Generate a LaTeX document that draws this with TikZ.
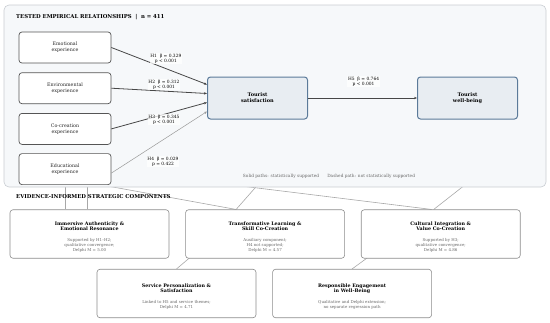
\documentclass[tikz,border=0pt]{standalone}
\usepackage{fontspec}
\setmainfont{DejaVu Serif}
\usepackage{xcolor}
\usetikzlibrary{arrows.meta, positioning}

\definecolor{panelfill}{HTML}{F6F8FA}
\definecolor{panelline}{HTML}{C9CDD2}
\definecolor{boxline}{HTML}{555555}
\definecolor{keyfill}{HTML}{E8EDF2}
\definecolor{keyline}{HTML}{5B7A99}
\definecolor{linkgray}{HTML}{A8A8A8}
\definecolor{notegray}{HTML}{666666}

\newcommand{\comptitle}{\color{black}\bfseries\fontsize{4.8}{6}\selectfont}
\newcommand{\toppad}{\rule{0pt}{9.5pt}}

\pgfdeclarelayer{back}
\pgfdeclarelayer{panel}
\pgfsetlayers{back,panel,main}

\begin{document}
\begin{tikzpicture}[
    x=1pt, y=-1pt,
    node distance=9pt and 16pt,
    expbox/.style={rectangle, rounded corners=3pt, draw=boxline, line width=0.7pt,
                   fill=white, minimum width=92pt, minimum height=31pt, inner sep=0pt,
                   align=center, text=black!85, font=\fontsize{4.8}{5.7}\selectfont},
    keybox/.style={rectangle, rounded corners=3pt, draw=keyline, line width=1pt,
                   fill=keyfill, minimum width=100pt, minimum height=42pt, inner sep=0pt,
                   align=center, font=\fontsize{5}{5.8}\selectfont\bfseries},
    compbox/.style={rectangle, rounded corners=3pt, draw=black!45, line width=0.6pt,
                    fill=white, minimum width=159pt, minimum height=48.5pt, inner sep=0pt,
                    align=center, text=notegray, font=\fontsize{4}{5}\selectfont},
    head/.style={anchor=west, inner sep=0pt, font=\fontsize{5.35}{6}\selectfont\bfseries},
    hpath/.style={-{Stealth[length=3pt, width=2.4pt]}, draw=black!72, line width=0.8pt},
    weakpath/.style={-{Stealth[length=3pt, width=2.4pt]}, draw=black!40, line width=0.5pt},
    hlabel/.style={fill=white, fill opacity=0.75, text opacity=1, inner sep=0.6pt,
                   align=center, font=\fontsize{4.4}{5}\selectfont},
    link/.style={draw=linkgray, line width=0.6pt},
    panelbox/.style={draw=panelline, line width=0.6pt, fill=panelfill, rounded corners=5pt}
]
\useasboundingbox (0,0) rectangle (550,322);

% Tested relationships
\node[head] (toptitle) at (16,17) {TESTED EMPIRICAL RELATIONSHIPS \ | \ n = 411};

\node[expbox] (emo) at (65,47.5) {Emotional\\experience};
\node[expbox, below=of emo] (env) {Environmental\\experience};
\node[expbox, below=of env] (cocr) {Co-creation\\experience};
\node[expbox, below=8.5pt of cocr] (edu) {Educational\\experience};

\node[keybox] (sat) at (257.5,98) {Tourist\\satisfaction};
\node[keybox, right=109pt of sat] (wb) {Tourist\\well-being};

\draw[hpath] (emo.east) -- node[hlabel, pos=0.57, yshift=10pt]{H1\ \ β = 0.329\\p < 0.001} ([yshift=13.5pt]sat.west);
\draw[hpath] (env.east) -- node[hlabel, pos=0.55, yshift=6.5pt]{H2\ \ β = 0.312\\p < 0.001} ([yshift=4.5pt]sat.west);
\draw[hpath] (cocr.east) -- node[hlabel, pos=0.55, yshift=-5pt]{H3\ \ β = 0.345\\p < 0.001} ([yshift=-4.5pt]sat.west);
\draw[weakpath] ([yshift=-4pt]edu.east) -- node[hlabel, pos=0.54, yshift=-21.5pt]{H4\ \ β = 0.029\\p = 0.422} ([yshift=-13.5pt]sat.west);
\draw[hpath, line width=1pt] (sat) -- node[hlabel, pos=0.51, yshift=16.5pt]{H5\ \ β = 0.764\\p < 0.001} (wb);

\node[inner sep=0pt, text=notegray, font=\fontsize{4.3}{5}\selectfont] (note) at (329,176)
     {Solid paths: statistically supported\hspace{8pt}Dashed path: not statistically supported};

\begin{pgfonlayer}{panel}
\path[panelbox] (4,5) rectangle (546,187);
\end{pgfonlayer}

% Strategic components
\node[head] (bottomtitle) at (16,197) {EVIDENCE-INFORMED STRATEGIC COMPONENTS};

\node[compbox] (imm) at (89.5,234) {{\comptitle\toppad Immersive Authenticity \&}\\{\comptitle Emotional Resonance}\\[6pt]Supported by H1–H2;\\qualitative convergence;\\Delphi M = 5.00};
\node[compbox, right=of imm] (trans) {{\comptitle\toppad Transformative Learning \&}\\{\comptitle Skill Co-Creation}\\[6pt]Auxiliary component;\\H4 not supported;\\Delphi M = 4.57};
\node[compbox, right=of trans] (cult) {{\comptitle\toppad Cultural Integration \&}\\{\comptitle Value Co-Creation}\\[6pt]Supported by H3;\\qualitative convergence;\\Delphi M = 4.86};
\node[compbox] (serv) at (176.5,293.5) {{\comptitle\toppad Service Personalization \&}\\{\comptitle Satisfaction}\\[6pt]Linked to H5 and service themes;\\Delphi M = 4.71};
\node[compbox, right=of serv] (resp) {{\comptitle\toppad Responsible Engagement}\\{\comptitle in Well-Being}\\[6pt]Qualitative and Delphi extension;\\no separate regression path};

% Links from paths to components
\coordinate (fromedu) at (80,181);
\coordinate (fromsat) at (262,180);
\coordinate (fromcocr) at (225,184);
\coordinate (fromwb) at (470,181);
\coordinate (fromtrans) at (200,249);
\coordinate (fromcult) at (378,250);
\begin{pgfonlayer}{back}
\draw[link] (emo.south) -- (emo.south |- imm.north);
\draw[link] ([xshift=-2pt]imm.north) -- ([xshift=-2pt]imm.north |- edu.south);
\draw[link] (fromedu) -- ([xshift=-29pt]trans.north);
\draw[link] (fromsat) -- ([xshift=-29pt]trans.north);
\draw[link] (fromcocr) -- ([xshift=-9pt]cult.north);
\draw[link] (fromwb) -- ([xshift=-7pt]cult.north);
\draw[link] (fromtrans) -- (serv.north);
\draw[link] (fromcult) -- (resp.north);
\end{pgfonlayer}

\end{tikzpicture}
\end{document}
